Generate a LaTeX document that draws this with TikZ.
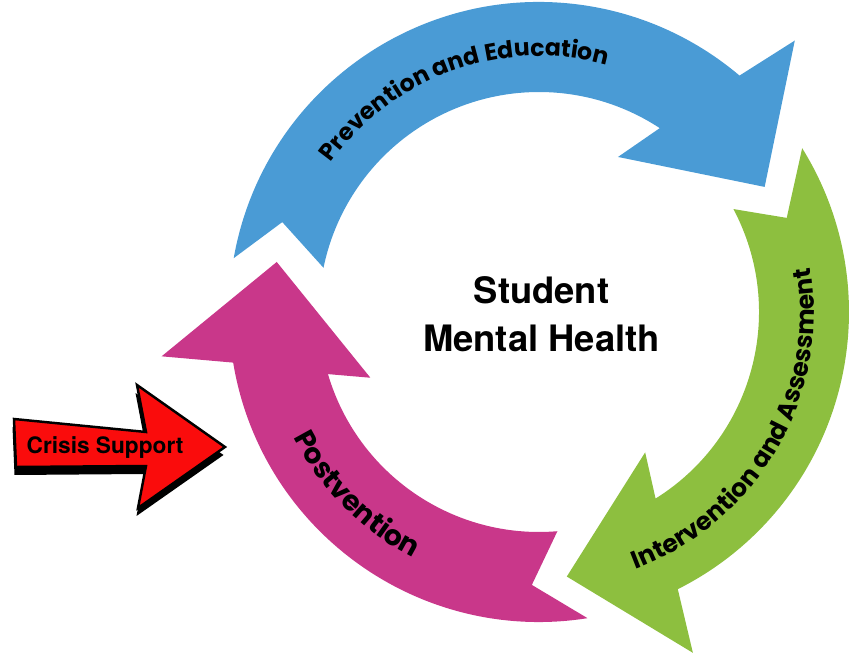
\documentclass[tikz,border=0pt]{standalone}
\usepackage{fontspec}
\setmainfont{Poppins}
\newfontfamily\grotesk{TeX Gyre Heros}
\usetikzlibrary{decorations.text}
\definecolor{prevblue}{RGB}{74,155,213}
\definecolor{intgreen}{RGB}{141,191,63}
\definecolor{postpink}{RGB}{201,55,138}
\definecolor{crisisred}{RGB}{250,12,12}
\newcommand{\bandfont}[1]{\bfseries\fontsize{#1}{16}\selectfont}
\newcommand{\healthfont}{\grotesk\bfseries\fontsize{20.7}{27}\selectfont}
\newcommand{\crisisfont}{\grotesk\bfseries\fontsize{12.9}{15}\selectfont}
\newcommand{\crisisoutline}{(0.28,4.78) -- (2.92,4.52) -- (2.74,5.46) -- (4.50,4.22) -- (2.76,3.00) -- (2.92,3.84) -- (0.32,3.82) -- cycle}
\tikzset{
    band/.style={fill=#1,draw=none},
}

\begin{document}
\begin{tikzpicture}
%% label styles
\tikzstyle{bandlabel}=[decorate,decoration={text along path,text align=center}]
\tikzstyle{hublabel}=[align=center,font=\healthfont,inner sep=0pt]
\useasboundingbox (0,0) rectangle (17.02,13.16);
\coordinate (hub) at (10.78,6.92);
%%%%%%%%%%%%%%%%%%%%%%%%%%%%%%%%%%%%%%%%%%%%%%%%%%%%%%%%%%%%%%
%BANDS
\begin{scope}[shift={(hub)}]
%prevention
\fill[band=prevblue] (170:6.2) arc[start angle=170,end angle=49.7,radius=6.2]
    -- (46.7:7.46) -- (29:5.16) -- (63:3.48) -- (56.7:4.4)
    arc[start angle=56.7,end angle=168.4,radius=4.4] -- (160.7:5.44) -- cycle;
%intervention
\fill[band=intgreen] (31.9:6.2) arc[start angle=31.9,end angle=-63.4,radius=6.2]
    -- (-65.7:7.48) -- (-84:5.32) -- (-52.9:3.52) -- (-58:4.4)
    arc[start angle=-58,end angle=27.9,radius=4.4] -- (20.8:5.3) -- cycle;
%postvention
\fill[band=postpink] (-81:6.2) arc[start angle=-81,end angle=-170.6,radius=6.2]
    -- (-173.3:7.6) -- (169.2:5.34) -- (-158.7:3.62) -- (-163.6:4.4)
    arc[start angle=-163.6,end angle=-85.2,radius=4.4] -- (-91.5:5.46) -- cycle;

%% texts on the bands
\path[bandlabel,decoration={text={|\bandfont{13.4}|Prevention and Education}}]
    (169.5:5.12) arc[start angle=169.5,end angle=49.5,radius=5.12];
\path[bandlabel,decoration={text={|\bandfont{14.2}|Intervention and Assessment}}]
    (-90:5.5) arc[start angle=-90,end angle=30,radius=5.5];
\path[bandlabel,decoration={text={|\bandfont{16}|Postvention}}]
    (165:5.52) arc[start angle=165,end angle=285,radius=5.52];
\end{scope}

%%%%%%%%%%%%%%%%%%%%%%%%%%%%%%%%%%%%%%%%%%%%%%%%%%%%%%%%%%%%%%
%CENTRE
\node[hublabel] (health) at (10.83,6.88) {Student\\Mental Health};

%%%%%%%%%%%%%%%%%%%%%%%%%%%%%%%%%%%%%%%%%%%%%%%%%%%%%%%%%%%%%%
%CRISIS
\fill[black,shift={(-0.03,-0.16)}] \crisisoutline;
\draw[fill=crisisred,line width=1.4pt,line join=miter] \crisisoutline;
\node[font=\crisisfont,anchor=base,inner sep=0pt] (crisis) at (2.10,4.08) {Crisis Support};
\end{tikzpicture}
\end{document}
